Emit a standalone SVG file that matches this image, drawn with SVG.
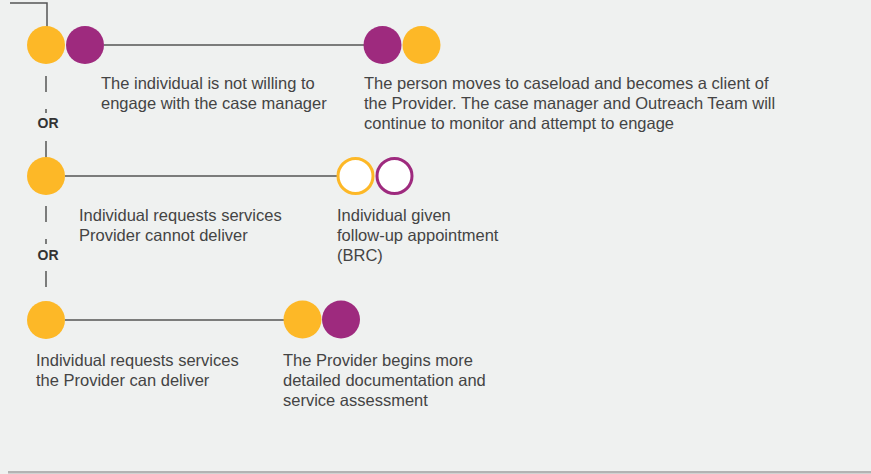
<svg xmlns="http://www.w3.org/2000/svg" width="871" height="474" viewBox="0 0 871 474">
<style>
.y{fill:#FDB827}
.p{fill:#9E2A7E}
.hy{fill:#fff;stroke:#FDB827;stroke-width:3}
.hp{fill:#fff;stroke:#9E2A7E;stroke-width:3}
.ln{stroke:#555;stroke-width:1.5;fill:none}
.t{font-family:"Liberation Sans",Arial,sans-serif;font-size:16.5px;fill:#444}
.or{font-family:"Liberation Sans",Arial,sans-serif;font-size:14px;font-weight:bold;fill:#333;text-anchor:middle}
</style>
<rect width="871" height="474" fill="#EFF1F0"/>
<g id="connectors">
<polyline class="ln" points="10,3 47,3 47,27"/>
<line class="ln" x1="104" y1="45" x2="364" y2="45"/>
<line class="ln" x1="46" y1="76" x2="46" y2="92"/>
<line class="ln" x1="46" y1="109" x2="46" y2="113"/>
<line class="ln" x1="46" y1="141" x2="46" y2="158"/>
<line class="ln" x1="65" y1="176" x2="337" y2="176"/>
<line class="ln" x1="46" y1="206" x2="46" y2="222"/>
<line class="ln" x1="46" y1="239" x2="46" y2="244"/>
<line class="ln" x1="46" y1="271" x2="46" y2="287"/>
<line class="ln" x1="65" y1="320" x2="284" y2="320"/>
</g>
<g id="n1">
<circle class="y" cx="46" cy="45" r="19"/>
<circle class="p" cx="85" cy="45" r="19"/>
<text class="t" x="101" y="89">The individual is not willing to</text>
<text class="t" x="101" y="109">engage with the case manager</text>
</g>
<g id="n2">
<circle class="p" cx="382.5" cy="45" r="19"/>
<circle class="y" cx="421.5" cy="45" r="19"/>
<text class="t" x="364" y="89">The person moves to caseload and becomes a client of</text>
<text class="t" x="364" y="109">the Provider. The case manager and Outreach Team will</text>
<text class="t" x="364" y="129">continue to monitor and attempt to engage</text>
</g>
<g id="or1"><text class="or" x="48" y="128">OR</text></g>
<g id="n3">
<circle class="y" cx="46" cy="176" r="19"/>
<text class="t" x="79" y="221">Individual requests services</text>
<text class="t" x="79" y="241">Provider cannot deliver</text>
</g>
<g id="n4">
<circle class="hy" cx="355.5" cy="176" r="17.5"/>
<circle class="hp" cx="394.5" cy="176" r="17.5"/>
<text class="t" x="337" y="221">Individual given</text>
<text class="t" x="337" y="241">follow-up appointment</text>
<text class="t" x="337" y="261">(BRC)</text>
</g>
<g id="or2"><text class="or" x="48" y="260">OR</text></g>
<g id="n5">
<circle class="y" cx="46" cy="320" r="19"/>
<text class="t" x="36" y="366">Individual requests services</text>
<text class="t" x="36" y="386">the Provider can deliver</text>
</g>
<g id="n6">
<circle class="y" cx="302.5" cy="319.5" r="19"/>
<circle class="p" cx="341" cy="319.5" r="19"/>
<text class="t" x="283" y="366">The Provider begins more</text>
<text class="t" x="283" y="386">detailed documentation and</text>
<text class="t" x="283" y="406">service assessment</text>
</g>
<rect x="8" y="471" width="863" height="2.5" fill="#B3B3B3"/>
</svg>
